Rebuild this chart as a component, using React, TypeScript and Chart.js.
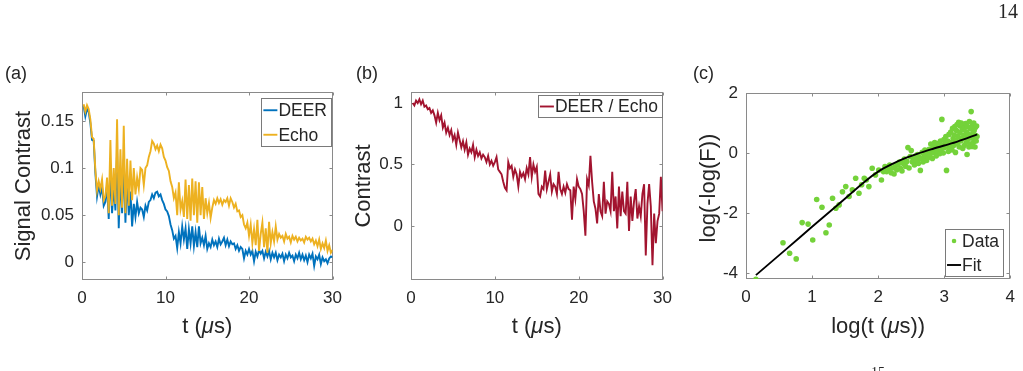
import React, { useEffect, useRef } from "react";
import { Chart, registerables } from "chart.js";

Chart.register(...registerables);

const FONT = '"Liberation Sans", Arial, Helvetica, sans-serif';
const SERIF = '"Liberation Serif", "Times New Roman", serif';
const TEXT = "#262626";
const AXIS = "#8a8a8a";
const LEGEND_EDGE = "#7a7a7a";

// ---- time grid (µs) shared by panels (a) and (b)
const T_US = [
  0.2, 0.4, 0.6, 0.8, 1.0, 1.2, 1.4, 1.6, 1.8, 2.0,
  2.2, 2.4, 2.6, 2.8, 3.0, 3.2, 3.4, 3.6, 3.8, 4.0,
  4.2, 4.4, 4.6, 4.8, 5.0, 5.2, 5.4, 5.6, 5.8, 6.0,
  6.2, 6.4, 6.6, 6.8, 7.0, 7.2, 7.4, 7.6, 7.8, 8.0,
  8.2, 8.4, 8.6, 8.8, 9.0, 9.2, 9.4, 9.6, 9.8, 10.0,
  10.2, 10.4, 10.6, 10.8, 11.0, 11.2, 11.4, 11.6, 11.8, 12.0,
  12.2, 12.4, 12.6, 12.8, 13.0, 13.2, 13.4, 13.6, 13.8, 14.0,
  14.2, 14.4, 14.6, 14.8, 15.0, 15.2, 15.4, 15.6, 15.8, 16.0,
  16.2, 16.4, 16.6, 16.8, 17.0, 17.2, 17.4, 17.6, 17.8, 18.0,
  18.2, 18.4, 18.6, 18.8, 19.0, 19.2, 19.4, 19.6, 19.8, 20.0,
  20.2, 20.4, 20.6, 20.8, 21.0, 21.2, 21.4, 21.6, 21.8, 22.0,
  22.2, 22.4, 22.6, 22.8, 23.0, 23.2, 23.4, 23.6, 23.8, 24.0,
  24.2, 24.4, 24.6, 24.8, 25.0, 25.2, 25.4, 25.6, 25.8, 26.0,
  26.2, 26.4, 26.6, 26.8, 27.0, 27.2, 27.4, 27.6, 27.8, 28.0,
  28.2, 28.4, 28.6, 28.8, 29.0, 29.2, 29.4, 29.6, 29.8, 30.0,
];

// ---- (a) signal contrast
const DEER = [
  0.166, 0.155, 0.163, 0.160, 0.148, 0.130, 0.129, 0.095, 0.070, 0.082,
  0.072, 0.080, 0.060, 0.064, 0.082, 0.046, 0.100, 0.052, 0.082, 0.055,
  0.118, 0.036, 0.095, 0.052, 0.110, 0.042, 0.092, 0.050, 0.075, 0.038,
  0.062, 0.048, 0.064, 0.052, 0.058, 0.056, 0.048, 0.060, 0.055, 0.064,
  0.066, 0.072, 0.068, 0.074, 0.075, 0.070, 0.072, 0.066, 0.062, 0.056,
  0.054, 0.049, 0.040, 0.034, 0.025, 0.028, 0.015, 0.032, 0.020, 0.038,
  0.024, 0.036, 0.014, 0.035, 0.020, 0.038, 0.017, 0.032, 0.016, 0.038,
  0.020, 0.026, 0.018, 0.028, 0.014, 0.020, 0.016, 0.024, 0.018, 0.022,
  0.016, 0.025, 0.019, 0.022, 0.026, 0.018, 0.024, 0.017, 0.022, 0.019,
  0.020, 0.014, 0.018, 0.012, 0.016, 0.014, 0.004, 0.012, 0.008, 0.014,
  0.008, 0.012, 0.001, 0.011, 0.006, 0.013, 0.009, 0.012, 0.004, 0.011,
  0.006, 0.012, 0.003, 0.010, 0.005, 0.010, 0.002, 0.008, 0.005, 0.009,
  0.001, 0.008, 0.004, 0.010, 0.005, 0.007, 0.001, 0.008, 0.004, 0.010,
  0.003, 0.008, 0.002, 0.007, 0.000, 0.008, 0.004, 0.009, -0.004, 0.006,
  0.003, 0.008, -0.002, 0.005, 0.001, 0.003, -0.001, 0.004, 0.006, 0.005,
];

const ECHO = [
  0.168, 0.160, 0.167, 0.163, 0.152, 0.133, 0.131, 0.098, 0.076, 0.086,
  0.078, 0.088, 0.066, 0.070, 0.090, 0.052, 0.130, 0.060, 0.100, 0.062,
  0.152, 0.050, 0.120, 0.058, 0.145, 0.052, 0.110, 0.060, 0.108, 0.066,
  0.100, 0.072, 0.090, 0.078, 0.100, 0.098, 0.082, 0.100, 0.103, 0.112,
  0.118, 0.129, 0.126, 0.120, 0.124, 0.118, 0.125, 0.121, 0.112, 0.108,
  0.101, 0.097, 0.086, 0.080, 0.068, 0.074, 0.050, 0.085, 0.056, 0.065,
  0.048, 0.088, 0.046, 0.082, 0.044, 0.089, 0.050, 0.086, 0.042, 0.085,
  0.050, 0.080, 0.046, 0.068, 0.052, 0.063, 0.047, 0.058, 0.066, 0.062,
  0.068, 0.063, 0.067, 0.061, 0.066, 0.064, 0.068, 0.060, 0.068, 0.064,
  0.058, 0.062, 0.054, 0.055, 0.048, 0.050, 0.040, 0.036, 0.042, 0.028,
  0.040, 0.020, 0.035, 0.018, 0.045, 0.012, 0.030, 0.042, 0.016, 0.036,
  0.010, 0.043, 0.020, 0.032, 0.022, 0.038, 0.024, 0.030, 0.026, 0.028,
  0.022, 0.030, 0.025, 0.027, 0.021, 0.028, 0.024, 0.027, 0.022, 0.026,
  0.023, 0.025, 0.021, 0.027, 0.024, 0.026, 0.022, 0.025, 0.019, 0.023,
  0.017, 0.024, 0.014, 0.020, 0.015, 0.023, 0.012, 0.018, 0.010, 0.013,
];

// ---- (b) normalised contrast
const RATIO = [
  1.00, 0.98, 1.02, 1.00, 1.03, 0.99, 1.02, 0.97, 0.98, 0.95,
  0.96, 0.92, 0.94, 0.90, 0.84, 0.92, 0.86, 0.90, 0.80, 0.84,
  0.76, 0.80, 0.74, 0.78, 0.70, 0.74, 0.66, 0.76, 0.70, 0.64,
  0.69, 0.62, 0.68, 0.58, 0.63, 0.60, 0.66, 0.56, 0.62, 0.57,
  0.60, 0.55, 0.58, 0.56, 0.52, 0.57, 0.50, 0.53, 0.49, 0.52,
  0.56, 0.46, 0.44, 0.42, 0.36, 0.31, 0.29, 0.52, 0.47, 0.49,
  0.40, 0.46, 0.42, 0.32, 0.44, 0.40, 0.43, 0.38, 0.47, 0.42,
  0.56, 0.40, 0.50, 0.44, 0.48, 0.26, 0.24, 0.32, 0.30, 0.45,
  0.30, 0.36, 0.42, 0.28, 0.34, 0.32, 0.26, 0.44, 0.30, 0.26,
  0.32, 0.27, 0.34, 0.30, 0.29, 0.05, 0.32, 0.22, 0.38, 0.32,
  0.30, 0.26, 0.12, -0.08, 0.38, 0.33, 0.57, 0.36, 0.20, 0.14,
  0.02, 0.26, 0.12, 0.08, 0.36, 0.10, 0.20, 0.18, 0.12, 0.44,
  0.12, 0.24, -0.02, 0.32, 0.08, 0.28, 0.12, 0.10, 0.36, -0.04,
  0.24, 0.04, 0.20, 0.30, 0.06, 0.16, 0.08, 0.26, 0.34, -0.24,
  0.18, 0.34, 0.16, -0.32, 0.10, -0.14, 0.04, 0.10, 0.40, 0.12,
];

// ---- (c) log-log scatter and fit
const LOG_T = [
  0.15, 0.56, 0.66, 0.76, 0.85, 0.94, 1.01, 1.07, 1.15, 1.21,
  1.26, 1.31, 1.36, 1.41, 1.46, 1.51, 1.56, 1.61, 1.66, 1.71,
  1.75, 1.79, 1.82, 1.86, 1.91, 1.96, 2.01, 2.05, 2.08,
  2.104, 2.128, 2.152, 2.175, 2.197, 2.219, 2.241, 2.262, 2.282, 2.303,
  2.322, 2.342, 2.361, 2.380, 2.398, 2.416, 2.434, 2.451, 2.468, 2.485,
  2.501, 2.518, 2.534, 2.549, 2.565, 2.580, 2.595, 2.610, 2.625, 2.639,
  2.653, 2.667, 2.681, 2.695, 2.708, 2.721, 2.734, 2.747, 2.760, 2.773,
  2.785, 2.797, 2.809, 2.821, 2.833, 2.845, 2.856, 2.868, 2.879, 2.890,
  2.901, 2.912, 2.923, 2.934, 2.944, 2.955, 2.965, 2.976, 2.986, 2.996,
  3.006, 3.016, 3.025, 3.035, 3.045, 3.054, 3.063, 3.073, 3.082, 3.091,
  3.100, 3.109, 3.118, 3.127, 3.135, 3.144, 3.153, 3.161, 3.170, 3.178,
  3.186, 3.195, 3.203, 3.211, 3.219, 3.227, 3.235, 3.243, 3.250, 3.258,
  3.266, 3.273, 3.281, 3.288, 3.296, 3.303, 3.311, 3.318, 3.325, 3.332,
  3.339, 3.346, 3.353, 3.360, 3.367, 3.374, 3.381, 3.388, 3.395, 3.401,
  3.408, 3.414, 3.421, 3.428, 3.434, 3.440, 3.447, 3.453, 3.459, 3.466,
  3.472, 3.478, 3.484, 3.490, 3.497,
];

const LOG_NEG_LOG_F = [
  -4.21, -2.99, -3.34, -3.53, -2.32, -2.37, -2.90, -1.55, -1.81, -2.66,
  -2.40, -1.51, -1.84, -1.73, -1.29, -1.12, -1.45, -1.23, -0.84, -1.34,
  -1.06, -0.84, -0.90, -1.12, -0.51, -0.73, -0.57, -0.90, -0.62,
  -0.45, -0.62, -0.55, -0.40, -0.66, -0.50, -0.70, -0.42, -0.56, -0.38,
  -0.30, -0.52, -0.60, -0.35, -0.20, -0.44, -0.28, 0.18, -0.50, -0.12,
  0.08, -0.30, -0.22, -0.40, -0.10, -0.26, -0.05, -0.35, -0.15, -0.58,
  -0.20, 0.02, -0.30, -0.12, 0.10, -0.08, -0.25, 0.05, -0.15, 0.12,
  -0.05, 0.30, 0.08, -0.18, 0.22, 0.02, 0.35, 0.10, -0.10, 0.28,
  0.05, 0.32, 0.15, -0.02, 0.40, 0.12, 1.12, 0.25, 0.00, 0.45,
  0.18, 0.30, 0.55, -0.58, 0.22, 0.40, 0.05, 0.62, 0.28, 0.15,
  0.70, 0.35, 0.10, 0.82, 0.48, 0.25, 0.60, 0.88, 0.02, 0.42,
  0.75, 0.95, 0.30, 0.55, 1.02, 0.20, 0.68, 0.90, 0.40, 1.00,
  0.48, 0.78, 0.15, 0.95, 0.60, 0.25, 0.85, 0.50, 0.98, 0.35,
  0.70, -0.05, 0.88, 0.45, 0.62, 0.20, 1.05, 0.55, 0.30, 0.80,
  1.38, 0.50, 0.22, 0.92, 0.65, 0.35, 1.00, 0.75, 0.45, 0.20,
  0.85, 0.58, 0.40, 0.90, 0.55,
];

const FIT_LOG_T = [0.15, 0.6, 1.0, 1.4, 1.8, 2.0, 2.2, 2.4, 2.6, 2.8, 3.0, 3.2, 3.5];
const FIT_VALUES = [-4.07, -3.22, -2.46, -1.71, -0.95, -0.62, -0.38, -0.18, -0.02, 0.12, 0.25, 0.38, 0.62];

// ---- axis ticks and labels
const T_TICKS = [0, 10, 20, 30];
const T_LABELS = ["0", "10", "20", "30"];
const A_Y_TICKS = [0, 0.05, 0.1, 0.15];
const A_Y_LABELS = ["0", "0.05", "0.1", "0.15"];
const B_Y_TICKS = [0, 0.5, 1];
const B_Y_LABELS = ["0", "0.5", "1"];
const C_X_TICKS = [0, 1, 2, 3, 4];
const C_X_LABELS = ["0", "1", "2", "3", "4"];
const C_Y_TICKS = [-4, -2, 0, 2];
const C_Y_LABELS = ["-4", "-2", "0", "2"];

const COLORS = {
  deer: "#0072BD",
  echo: "#EDB120",
  ratio: "#A2142F",
  data: "#74D23A",
  fit: "#000000",
};

const PAGE_H = 371;
const LINE_W = 1.9;

type Seg = { text: string; italic?: boolean };
type Area = { l: number; t: number; r: number; b: number };
type Geo = { left: number; width: number; area: Area };
type LegendEntry = { dataset: number; kind: "line" | "dot" };
type Deco = {
  xTitle: { segs: Seg[]; cy: number };
  yTitle: { segs: Seg[]; cx: number; cy: number };
  legend: { right: number; top: number; height: number; entries: LegendEntry[] };
  texts: { text: string; x: number; y: number; font: string; baseline: CanvasTextBaseline }[];
};

function drawRich(ctx: CanvasRenderingContext2D, segs: Seg[], cx: number, cy: number, size: number, rotate: boolean) {
  ctx.save();
  ctx.translate(cx, cy);
  if (rotate) ctx.rotate(-Math.PI / 2);
  const fonts = segs.map((s) => `${s.italic ? "italic " : ""}${size}px ${FONT}`);
  let total = 0;
  const widths = segs.map((s, i) => {
    ctx.font = fonts[i];
    const w = ctx.measureText(s.text).width;
    total += w;
    return w;
  });
  let x = -total / 2;
  ctx.textBaseline = "middle";
  ctx.textAlign = "left";
  ctx.fillStyle = TEXT;
  segs.forEach((s, i) => {
    ctx.font = fonts[i];
    ctx.fillText(s.text, x, 0);
    x += widths[i];
  });
  ctx.restore();
}

function makePlugins(geo: Geo, deco: Deco) {
  const ox = geo.left;
  const frame = {
    id: "frame",
    beforeDatasetsDraw(chart: any) {
      const { ctx, chartArea: a, scales } = chart;
      ctx.save();
      ctx.strokeStyle = AXIS;
      ctx.lineWidth = 1;
      const L = Math.round(a.left) + 0.5;
      const R = Math.round(a.right) - 0.5;
      const T = Math.round(a.top) + 0.5;
      const B = Math.round(a.bottom) - 0.5;
      ctx.strokeRect(L, T, R - L, B - T);
      const len = 3;
      ctx.beginPath();
      for (const tk of scales.x.ticks) {
        const px = Math.round(scales.x.getPixelForValue(tk.value)) + 0.5;
        ctx.moveTo(px, B);
        ctx.lineTo(px, B - len);
        ctx.moveTo(px, T);
        ctx.lineTo(px, T + len);
      }
      for (const tk of scales.y.ticks) {
        const py = Math.round(scales.y.getPixelForValue(tk.value)) + 0.5;
        ctx.moveTo(L, py);
        ctx.lineTo(L + len, py);
        ctx.moveTo(R, py);
        ctx.lineTo(R - len, py);
      }
      ctx.stroke();
      ctx.restore();
    },
  };
  const overlay = {
    id: "overlay",
    afterDraw(chart: any) {
      const { ctx, chartArea: a } = chart;
      // legend box
      const lg = deco.legend;
      const fontSize = 17.5;
      ctx.save();
      ctx.font = `${fontSize}px ${FONT}`;
      const labels = lg.entries.map((e) => chart.data.datasets[e.dataset].label as string);
      const textW = Math.max(...labels.map((s) => ctx.measureText(s).width));
      const right = lg.right - ox;
      const boxW = 17 + textW + 5;
      const left = right - boxW;
      const top = lg.top;
      ctx.fillStyle = "#ffffff";
      ctx.fillRect(left, top, boxW, lg.height);
      ctx.strokeStyle = LEGEND_EDGE;
      ctx.lineWidth = 1;
      ctx.strokeRect(Math.round(left) + 0.5, Math.round(top) + 0.5, Math.round(boxW) - 1, Math.round(lg.height) - 1);
      const rowH = lg.height / lg.entries.length;
      lg.entries.forEach((e, i) => {
        const ds = chart.data.datasets[e.dataset];
        const cy = top + rowH * (i + 0.5);
        if (e.kind === "line") {
          ctx.strokeStyle = ds.borderColor;
          ctx.lineWidth = LINE_W;
          ctx.beginPath();
          ctx.moveTo(left + 2, cy);
          ctx.lineTo(left + 16, cy);
          ctx.stroke();
        } else {
          ctx.fillStyle = ds.backgroundColor;
          ctx.beginPath();
          ctx.arc(left + 9, cy, 2.3, 0, Math.PI * 2);
          ctx.fill();
        }
        ctx.fillStyle = TEXT;
        ctx.textAlign = "left";
        ctx.textBaseline = "middle";
        ctx.fillText(labels[i], left + 17, cy + 1);
      });
      ctx.restore();

      // axis titles
      drawRich(ctx, deco.xTitle.segs, (a.left + a.right) / 2, deco.xTitle.cy, 22, false);
      drawRich(ctx, deco.yTitle.segs, deco.yTitle.cx - ox, deco.yTitle.cy, 22, true);

      // free text: panel letters, page numbers
      ctx.save();
      for (const t of deco.texts) {
        ctx.font = t.font;
        ctx.fillStyle = TEXT;
        ctx.textAlign = "left";
        ctx.textBaseline = t.baseline;
        ctx.fillText(t.text, t.x - ox, t.y);
      }
      ctx.restore();
    },
  };
  return [frame, overlay];
}

function axis(
  ticks: number[],
  labels: string[],
  min: number,
  max: number,
  horizontal: boolean,
  size: number
) {
  return {
    type: "linear",
    min,
    max,
    bounds: "data",
    offset: false,
    grid: { display: false, drawTicks: false },
    border: { display: false },
    afterBuildTicks: (s: any) => {
      s.ticks = ticks.map((v) => ({ value: v }));
    },
    afterFit: (s: any) => {
      if (horizontal) s.height = size;
      else s.width = size;
    },
    ticks: {
      autoSkip: false,
      maxRotation: 0,
      minRotation: 0,
      padding: 8,
      color: TEXT,
      font: { family: FONT, size: 17 },
      callback: (_v: any, i: number) => labels[i],
    },
  };
}

function build(
  canvas: HTMLCanvasElement,
  geo: Geo,
  type: "line" | "scatter",
  datasets: any[],
  xAxis: { ticks: number[]; labels: string[]; min: number; max: number },
  yAxis: { ticks: number[]; labels: string[]; min: number; max: number },
  deco: Deco
) {
  const xH = 40;
  return new Chart(canvas, {
    type,
    data: { datasets },
    options: {
      responsive: false,
      animation: false,
      devicePixelRatio: 1,
      layout: {
        padding: {
          left: 0,
          top: geo.area.t,
          right: geo.left + geo.width - geo.area.r,
          bottom: PAGE_H - geo.area.b - xH,
        },
      },
      plugins: { legend: { display: false }, tooltip: { enabled: false } },
      scales: {
        x: axis(xAxis.ticks, xAxis.labels, xAxis.min, xAxis.max, true, xH),
        y: axis(yAxis.ticks, yAxis.labels, yAxis.min, yAxis.max, false, geo.area.l - geo.left),
      },
    } as any,
    plugins: makePlugins(geo, deco) as any,
  });
}

const lineSeries = (label: string, ys: number[], color: string, order: number) => ({
  type: "line",
  label,
  data: T_US.map((t, i) => ({ x: t, y: ys[i] })),
  borderColor: color,
  backgroundColor: color,
  borderWidth: LINE_W,
  pointRadius: 0,
  tension: 0,
  order,
});

const T_TITLE: Seg[] = [{ text: "t (" }, { text: "μ", italic: true }, { text: "s)" }];

const GEO_A: Geo = { left: 0, width: 350, area: { l: 82, t: 92, r: 337, b: 280 } };
const GEO_B: Geo = { left: 340, width: 340, area: { l: 411, t: 92, r: 667, b: 280 } };
const GEO_C: Geo = { left: 680, width: 343, area: { l: 746, t: 93, r: 1012, b: 279 } };

const LETTER_FONT = `18px ${FONT}`;

export default function App() {
  const refA = useRef<HTMLCanvasElement>(null);
  const refB = useRef<HTMLCanvasElement>(null);
  const refC = useRef<HTMLCanvasElement>(null);

  useEffect(() => {
    const a = build(
      refA.current!,
      GEO_A,
      "line",
      [lineSeries("DEER", DEER, COLORS.deer, 1), lineSeries("Echo", ECHO, COLORS.echo, 0)],
      { ticks: T_TICKS, labels: T_LABELS, min: 0, max: 30 },
      { ticks: A_Y_TICKS, labels: A_Y_LABELS, min: -0.019, max: 0.181 },
      {
        xTitle: { segs: T_TITLE, cy: 327 },
        yTitle: { segs: [{ text: "Signal Contrast" }], cx: 24, cy: 186 },
        legend: {
          right: 332,
          top: 98,
          height: 49,
          entries: [
            { dataset: 0, kind: "line" },
            { dataset: 1, kind: "line" },
          ],
        },
        texts: [{ text: "(a)", x: 5, y: 74, font: LETTER_FONT, baseline: "middle" }],
      }
    );

    const b = build(
      refB.current!,
      GEO_B,
      "line",
      [lineSeries("DEER / Echo", RATIO, COLORS.ratio, 0)],
      { ticks: T_TICKS, labels: T_LABELS, min: 0, max: 30 },
      { ticks: B_Y_TICKS, labels: B_Y_LABELS, min: -0.44, max: 1.09 },
      {
        xTitle: { segs: T_TITLE, cy: 327 },
        yTitle: { segs: [{ text: "Contrast" }], cx: 364, cy: 186 },
        legend: { right: 663, top: 95, height: 23, entries: [{ dataset: 0, kind: "line" }] },
        texts: [{ text: "(b)", x: 356, y: 74, font: LETTER_FONT, baseline: "middle" }],
      }
    );

    const c = build(
      refC.current!,
      GEO_C,
      "scatter",
      [
        {
          type: "scatter",
          label: "Data",
          data: LOG_T.map((x, i) => ({ x, y: LOG_NEG_LOG_F[i] })),
          backgroundColor: COLORS.data,
          borderColor: COLORS.data,
          borderWidth: 0,
          pointRadius: 2.8,
          order: 1,
        },
        {
          type: "line",
          label: "Fit",
          data: FIT_LOG_T.map((x, i) => ({ x, y: FIT_VALUES[i] })),
          borderColor: COLORS.fit,
          backgroundColor: COLORS.fit,
          borderWidth: LINE_W,
          pointRadius: 0,
          tension: 0.3,
          showLine: true,
          order: 0,
        },
      ],
      { ticks: C_X_TICKS, labels: C_X_LABELS, min: 0, max: 4 },
      { ticks: C_Y_TICKS, labels: C_Y_LABELS, min: -4.2, max: 2 },
      {
        xTitle: { segs: [{ text: "log(t (" }, { text: "μ", italic: true }, { text: "s))" }], cy: 327 },
        yTitle: { segs: [{ text: "log(-log(F))" }], cx: 709, cy: 188 },
        legend: {
          right: 1004,
          top: 229,
          height: 48,
          entries: [
            { dataset: 0, kind: "dot" },
            { dataset: 1, kind: "line" },
          ],
        },
        texts: [
          { text: "(c)", x: 693, y: 74, font: LETTER_FONT, baseline: "middle" },
          { text: "14", x: 998, y: 13, font: `20px ${SERIF}`, baseline: "middle" },
          { text: "15", x: 871, y: 377, font: `14px ${SERIF}`, baseline: "alphabetic" },
        ],
      }
    );

    return () => {
      a.destroy();
      b.destroy();
      c.destroy();
    };
  }, []);

  const canvasStyle = (g: Geo): React.CSSProperties => ({
    position: "absolute",
    left: g.left,
    top: 0,
    width: g.width,
    height: PAGE_H,
  });

  return (
    <div
      style={{
        position: "absolute",
        left: 0,
        top: 0,
        width: 1023,
        height: PAGE_H,
        overflow: "hidden",
        background: "#ffffff",
      }}
    >
      <canvas ref={refA} width={GEO_A.width} height={PAGE_H} style={canvasStyle(GEO_A)} />
      <canvas ref={refB} width={GEO_B.width} height={PAGE_H} style={canvasStyle(GEO_B)} />
      <canvas ref={refC} width={GEO_C.width} height={PAGE_H} style={canvasStyle(GEO_C)} />
    </div>
  );
}
